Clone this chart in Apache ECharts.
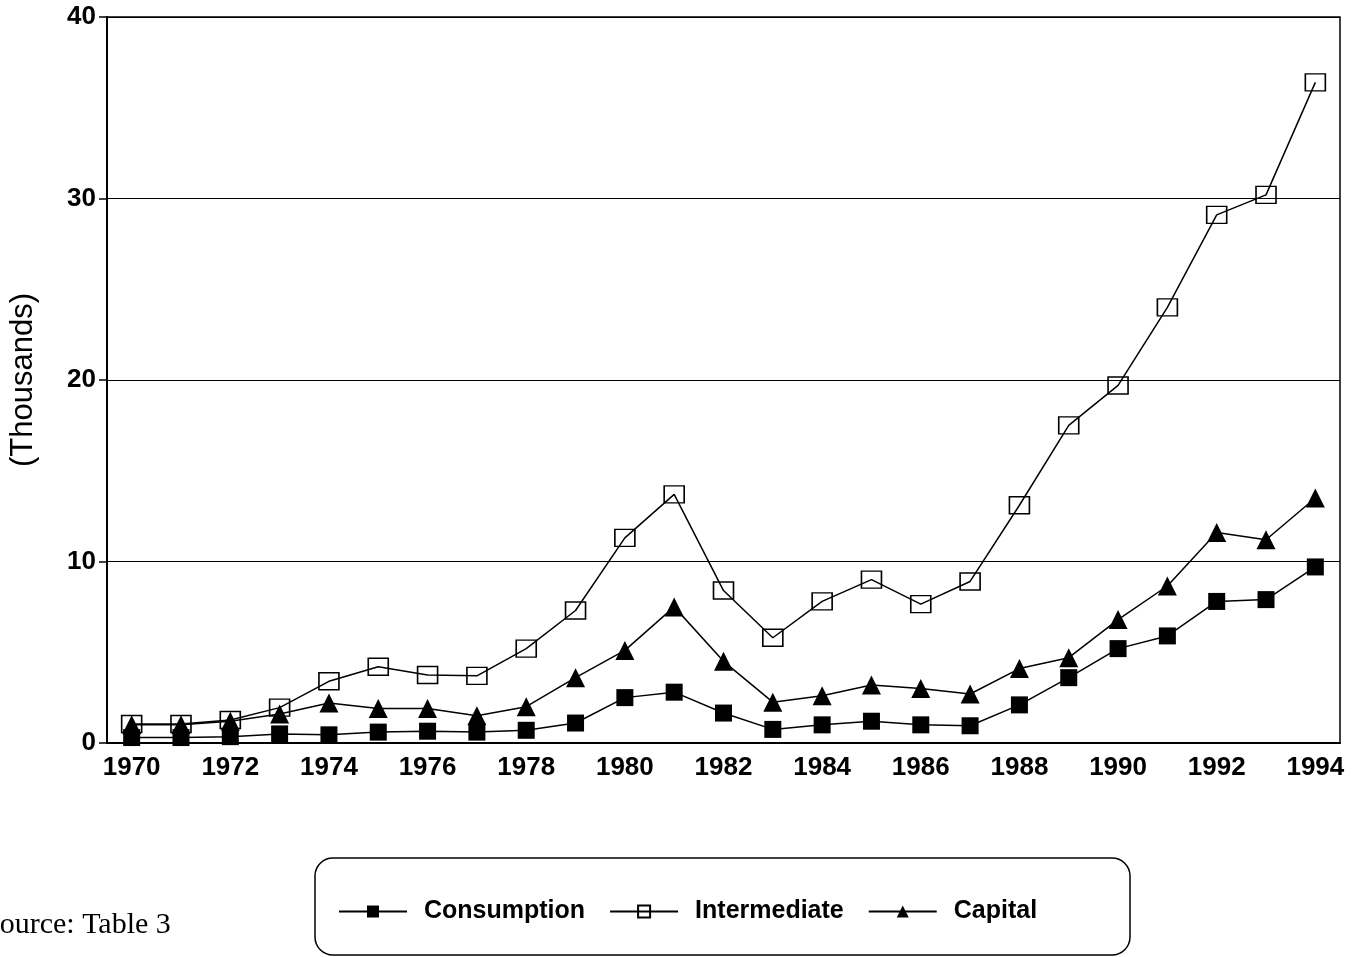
<!DOCTYPE html>
<html>
<head>
<meta charset="utf-8">
<script src="https://cdn.jsdelivr.net/npm/echarts@6/dist/echarts.min.js"></script>
<style>
  html, body { margin: 0; padding: 0; background: #fff; }
  #chart { width: 1360px; height: 957px; }
</style>
</head>
<body>
<div id="chart"></div>
<script>
  // years on the x axis
  var years = ['1970', '1971', '1972', '1973', '1974', '1975', '1976', '1977', '1978', '1979',
    '1980', '1981', '1982', '1983', '1984', '1985', '1986', '1987', '1988', '1989',
    '1990', '1991', '1992', '1993', '1994'];

  // values in thousands
  var consumption = [0.3, 0.3, 0.35, 0.5, 0.45, 0.6, 0.65, 0.6, 0.7, 1.1,
    2.5, 2.8, 1.65, 0.75, 1.0, 1.2, 1.0, 0.95, 2.1, 3.6,
    5.2, 5.9, 7.8, 7.9, 9.7];
  var intermediate = [1.05, 1.05, 1.27, 1.95, 3.4, 4.2, 3.75, 3.7, 5.2, 7.3,
    11.3, 13.7, 8.4, 5.8, 7.8, 9.0, 7.65, 8.9, 13.1, 17.5,
    19.7, 24.0, 29.1, 30.2, 36.4];
  var capital = [1.0, 1.0, 1.2, 1.6, 2.2, 1.9, 1.9, 1.5, 2.0, 3.6,
    5.1, 7.5, 4.5, 2.25, 2.6, 3.2, 3.0, 2.7, 4.1, 4.7,
    6.8, 8.65, 11.6, 11.2, 13.5];

  var yTicks = [0, 10, 20, 30, 40];

  var font = 'Liberation Sans, Arial, sans-serif';

  var chart = echarts.init(document.getElementById('chart'));
  var options = {
    animation: false,
    backgroundColor: '#fff',
    grid: {
      left: 103,
      right: 20,
      top: 17,
      bottom: 214,
      show: true,
      borderColor: '#000',
      borderWidth: 1.5
    },
    legend: {
      left: 333,
      top: 894,
      itemWidth: 68,
      itemHeight: 15,
      itemGap: 24,
      textStyle: {
        fontFamily: font,
        fontSize: 25,
        fontWeight: 'bold',
        color: '#000',
        padding: [0, 0, 0, 12]
      },
      data: ['Consumption', 'Intermediate', 'Capital']
    },
    xAxis: {
      type: 'category',
      data: years,
      boundaryGap: true,
      axisLine: { lineStyle: { color: '#000', width: 2 } },
      axisTick: {
        alignWithLabel: true,
        interval: 0,
        length: 9,
        lineStyle: { color: '#000', width: 1.5 }
      },
      axisLabel: {
        interval: 1,
        margin: 12,
        fontFamily: font,
        fontSize: 26,
        fontWeight: 'bold',
        color: '#000'
      }
    },
    yAxis: {
      type: 'value',
      min: yTicks[0],
      max: yTicks[yTicks.length - 1],
      interval: 10,
      name: '(Thousands)',
      nameLocation: 'middle',
      nameGap: 68,
      nameTextStyle: {
        fontFamily: font,
        fontSize: 31,
        color: '#000'
      },
      axisLine: { show: true, lineStyle: { color: '#000', width: 2 } },
      axisTick: { show: true, length: 8, lineStyle: { color: '#000', width: 1.5 } },
      axisLabel: {
        margin: 11,
        fontFamily: font,
        fontSize: 26,
        fontWeight: 'bold',
        color: '#000'
      },
      splitLine: { lineStyle: { color: '#000', width: 1.2 } }
    },
    series: [
      {
        name: 'Consumption',
        type: 'line',
        data: consumption,
        symbol: 'rect',
        symbolSize: 17,
        lineStyle: { color: '#000', width: 1.5 },
        itemStyle: { color: '#000' }
      },
      {
        name: 'Intermediate',
        type: 'line',
        data: intermediate,
        symbol: 'rect',
        symbolSize: [20, 17],
        lineStyle: { color: '#000', width: 1.5 },
        itemStyle: { color: 'rgba(255,255,255,0)', borderColor: '#000', borderWidth: 1.5 }
      },
      {
        name: 'Capital',
        type: 'line',
        data: capital,
        symbol: 'triangle',
        symbolSize: 19,
        lineStyle: { color: '#000', width: 1.5 },
        itemStyle: { color: '#000' }
      }
    ],
    graphic: [
      {
        type: 'rect',
        shape: { x: 315, y: 858, width: 815, height: 97, r: 18 },
        style: { fill: 'none', stroke: '#000', lineWidth: 1.5 },
        silent: true
      },
      {
        type: 'text',
        left: -17,
        top: 910,
        style: {
          text: 'Source: Table 3',
          font: '30px Liberation Serif, Times New Roman, serif',
          fill: '#000'
        }
      }
    ]
  };
  chart.setOption(options);
</script>
</body>
</html>
